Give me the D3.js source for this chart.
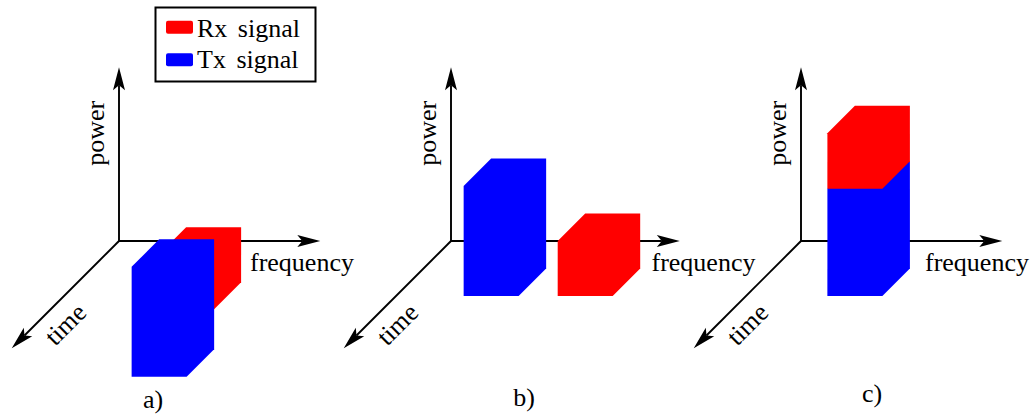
<!DOCTYPE html>
<html>
<head>
<meta charset="utf-8">
<script src="https://cdn.jsdelivr.net/npm/d3@7"></script>
<style>
  html, body { margin: 0; padding: 0; background: #fff; }
  svg { display: block; }
  text { font-family: "Liberation Serif", "Times New Roman", serif; fill: #000; }
</style>
</head>
<body>
<svg id="chart" width="1036" height="415"></svg>
<script>
// ---- data (abstract units: frequency, time, power) ----
const panelNames = ["a)", "b)", "c)"];
const seriesNames = ["Rx signal", "Tx signal"];
const axisNames = ["power", "frequency", "time"];

// extent of each axis per panel
const freqMax = [36.6, 41.6, 36.6];
const powerMax = [31.6, 31.6, 31.6];
const timeMax = [19.5, 19.5, 19.5];

// Rx signal block per panel: [start, end]
const rxFreq  = [[19.7, 29.7], [29.4, 39.4], [14.8, 24.8]];
const rxTime  = [[7.5, 12.5],  [5, 10],      [5, 10]];
const rxPower = [[0, 10],      [0, 10],      [19.5, 29.6]];

// Tx signal block per panel: [start, end]
const txFreq  = [[27, 37],     [12.3, 22.3], [14.8, 24.8]];
const txTime  = [[19.7, 24.7], [5, 10],      [5, 10]];
const txPower = [[0, 20],      [0, 20],      [0, 19.5]];

// ---- layout ----
const W = 1036, H = 415;
const unit = 5.5;                 // px per data unit
const originX = [119, 451, 801];
const originY = 241;
const freqLabelX = [250, 651.5, 925];
const freqLabelY = 271;
const captionX = [153, 524, 872];
const captionY = [408, 406, 402];
const fontSize = 26;

const color = d3.scaleOrdinal().domain(seriesNames).range(["#ff0000", "#0000ff"]);

const svg = d3.select("#chart");

// stealth-style arrowhead pointing along +x, tip at (0,0)
const arrowPath = "M0,0 L-23,-6 L-18,0 L-23,6 Z";

function drawArrow(g, x1, y1, x2, y2) {
  const ang = Math.atan2(y2 - y1, x2 - x1);
  const back = 18;
  g.append("line")
    .attr("x1", x1).attr("y1", y1)
    .attr("x2", x2 - back * Math.cos(ang)).attr("y2", y2 - back * Math.sin(ang))
    .attr("stroke", "#000").attr("stroke-width", 1.9);
  g.append("path")
    .attr("d", arrowPath)
    .attr("transform", `translate(${x2},${y2}) rotate(${ang * 180 / Math.PI})`)
    .attr("fill", "#000");
}

panelNames.forEach((name, i) => {
  const ox = originX[i], oy = originY;
  const fx = d3.scaleLinear().domain([0, freqMax[i]]).range([ox, ox + freqMax[i] * unit]);
  const py = d3.scaleLinear().domain([0, powerMax[i]]).range([oy, oy - powerMax[i] * unit]);
  const tk = d3.scaleLinear().domain([0, timeMax[i]]).range([0, timeMax[i] * unit]);
  // oblique projection: time recedes towards the lower left
  const proj = (f, t, p) => [fx(f) - tk(t), py(p) + tk(t)];

  const g = svg.append("g").attr("class", "panel");

  // axes
  const [px, pyTop] = proj(0, 0, powerMax[i]);
  drawArrow(g, ox, oy, px, pyTop);
  const [fxEnd, fyEnd] = proj(freqMax[i], 0, 0);
  drawArrow(g, ox, oy, fxEnd, fyEnd);
  const [txEnd, tyEnd] = proj(0, timeMax[i], 0);
  drawArrow(g, ox, oy, txEnd, tyEnd);

  // axis labels
  g.append("text")
    .attr("transform", `translate(${ox - 15},${py(powerMax[i] * 0.62)}) rotate(-90)`)
    .attr("text-anchor", "middle")
    .attr("font-size", fontSize)
    .text(axisNames[0]);
  g.append("text")
    .attr("x", freqLabelX[i]).attr("y", freqLabelY)
    .attr("font-size", fontSize)
    .text(axisNames[1]);
  g.append("text")
    .attr("transform", `translate(${ox - 47.5},${oy + 89.5}) rotate(-45)`)
    .attr("text-anchor", "middle")
    .attr("font-size", fontSize)
    .text(axisNames[2]);

  // signal blocks
  const blocks = [
    { s: seriesNames[0], f: rxFreq[i], t: rxTime[i], p: rxPower[i] },
    { s: seriesNames[1], f: txFreq[i], t: txTime[i], p: txPower[i] }
  ].sort((a, b) => (a.t[1] - b.t[1]) || (a.p[0] - b.p[0]));

  const line = d3.line();
  g.selectAll("path.block")
    .data(blocks)
    .join("path")
    .attr("class", "block")
    .attr("fill", d => color(d.s))
    .attr("d", d => {
      const [f0, f1] = d.f, [t0, t1] = d.t, [p0, p1] = d.p;
      return line([
        proj(f0, t1, p0), proj(f0, t1, p1), proj(f0, t0, p1),
        proj(f1, t0, p1), proj(f1, t0, p0), proj(f1, t1, p0)
      ]) + "Z";
    });

  // caption
  g.append("text")
    .attr("x", captionX[i]).attr("y", captionY[i])
    .attr("text-anchor", "middle")
    .attr("font-size", fontSize)
    .text(name);
});

// legend
const lg = svg.append("g").attr("class", "legend");
lg.append("rect")
  .attr("x", 155.5).attr("y", 7.5).attr("width", 160).attr("height", 74)
  .attr("fill", "#fff").attr("stroke", "#000").attr("stroke-width", 2);
seriesNames.forEach((s, k) => {
  const yTop = [20.7, 53.3][k];
  lg.append("rect")
    .attr("x", 166).attr("y", yTop).attr("width", 27).attr("height", 13)
    .attr("rx", 2).attr("fill", color(s));
  lg.append("text")
    .attr("x", 197).attr("y", [36.5, 67.5][k])
    .attr("font-size", fontSize)
    .attr("word-spacing", 4)
    .text(s);
});
</script>
</body>
</html>
